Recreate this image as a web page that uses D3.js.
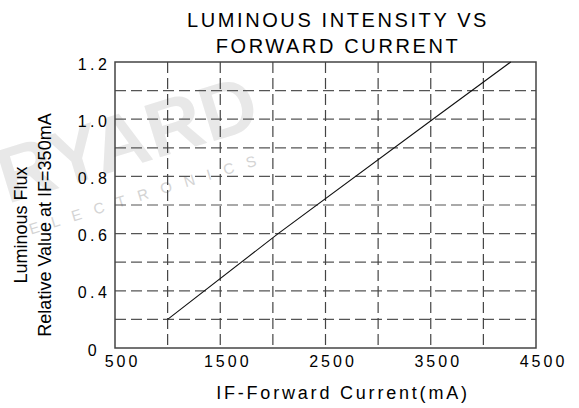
<!DOCTYPE html>
<html>
<head>
<meta charset="utf-8">
<script src="https://cdn.jsdelivr.net/npm/d3@7"></script>
<style>
  body { margin: 0; background: #fff; }
  svg { display: block; font-family: "Liberation Sans", Arial, sans-serif; }
</style>
</head>
<body>
<div id="chart"></div>
<script>
// values
var current = [1000, 2050, 3520, 4260];
var flux = [0.3, 0.6, 1.0, 1.2];

var xTicks = [500, 1500, 2500, 3500, 4500];
var xTickLabels = ["500", "1500", "2500", "3500", "4500"];
var xGrid = [1000, 1500, 2000, 2500, 3000, 3500, 4000];

// bottom of the axis is 0.2 but the sheet labels it "0"
var yTicks = [0.2, 0.4, 0.6, 0.8, 1.0, 1.2];
var yTickLabels = ["0", "0.4", "0.6", "0.8", "1.0", "1.2"];
var yGrid = [0.3, 0.4, 0.5, 0.6, 0.7, 0.8, 0.9, 1.0, 1.1];

var titleLines = ["LUMINOUS INTENSITY VS", "FORWARD CURRENT"];
var xLabel = "IF-Forward Current(mA)";
var yLabelLines = ["Luminous Flux", "Relative Value at IF=350mA"];

var w = 579, h = 408;
var pL = 115, pR = 536, pT = 62, pB = 348;

var svg = d3.select("#chart")
            .append("svg")
            .attr("width", w)
            .attr("height", h);

///////////// WATERMARK /////////////
var wm = svg.append("g")
  .attr("transform", "translate(135,165) rotate(-17)");
wm.append("text")
  .text("RYARD")
  .attr("x", 0)
  .attr("y", 0)
  .attr("text-anchor", "middle")
  .attr("font-size", "78px")
  .attr("font-weight", "bold")
  .attr("fill", "#e8e8e8");
wm.append("text")
  .text("ELECTRONICS")
  .attr("x", 5)
  .attr("y", 36)
  .attr("text-anchor", "middle")
  .attr("font-size", "15px")
  .attr("letter-spacing", "13px")
  .attr("fill", "#d4d4d4");

var x = d3.scaleLinear().domain([500, 4500]).range([pL, pR]);
var y = d3.scaleLinear().domain([0.2, 1.2]).range([pB, pT]);

///////////// GRID /////////////
svg.append("g")
  .selectAll("line")
  .data(yGrid)
  .enter()
  .append("line")
  .attr("x1", pL)
  .attr("x2", pR)
  .attr("y1", function(d) { return y(d) })
  .attr("y2", function(d) { return y(d) })
  .attr("stroke", "#555")
  .attr("stroke-width", 1.2)
  .attr("stroke-dasharray", "11,5");

svg.append("g")
  .selectAll("line")
  .data(xGrid)
  .enter()
  .append("line")
  .attr("x1", function(d) { return x(d) })
  .attr("x2", function(d) { return x(d) })
  .attr("y1", pT)
  .attr("y2", pB)
  .attr("stroke", "#444")
  .attr("stroke-width", 1.2)
  .attr("stroke-dasharray", "11,5");

// frame
svg.append("rect")
  .attr("x", pL)
  .attr("y", pT)
  .attr("width", pR - pL)
  .attr("height", pB - pT)
  .attr("fill", "none")
  .attr("stroke", "#444")
  .attr("stroke-width", 1.5);

///////////// AXES (labels only, sheet has no tick marks) /////////////
var xAxis = d3.axisBottom(x)
  .tickValues(xTicks)
  .tickFormat(function(d, i) { return xTickLabels[i] })
  .tickSize(0);
var gx = svg.append("g")
  .attr("transform", "translate(0," + pB + ")")
  .call(xAxis);
gx.select(".domain").remove();
gx.selectAll("text")
  .attr("font-family", "Liberation Sans, Arial, sans-serif")
  .attr("font-size", "16px")
  .attr("letter-spacing", "3px")
  .attr("fill", "#000")
  .attr("dy", null)
  .attr("y", 19)
  .attr("dx", 7);

// y labels sit centred in a column left of the frame
var yAxis = d3.axisLeft(y)
  .tickValues(yTicks)
  .tickFormat(function(d, i) { return yTickLabels[i] })
  .tickSize(0);
var gy = svg.append("g")
  .attr("transform", "translate(" + pL + ",0)")
  .call(yAxis);
gy.select(".domain").remove();
gy.selectAll("text")
  .attr("font-family", "Liberation Sans, Arial, sans-serif")
  .attr("font-size", "16px")
  .attr("letter-spacing", "3.5px")
  .attr("fill", "#000")
  .attr("text-anchor", "middle")
  .attr("dy", null)
  .attr("x", -21)
  .attr("y", 7);

///////////// CURVE /////////////
var pts = current.map(function(c, i) { return [c, flux[i]] });
var line = d3.line()
  .x(function(d) { return x(d[0]) })
  .y(function(d) { return y(d[1]) });
svg.append("path")
  .datum(pts)
  .attr("d", line)
  .attr("fill", "none")
  .attr("stroke", "#111")
  .attr("stroke-width", 1.1);

///////////// TEXT /////////////
svg.selectAll(".title")
  .data(titleLines)
  .enter()
  .append("text")
  .attr("class", "title")
  .text(function(d) { return d })
  .attr("x", 338)
  .attr("y", function(d, i) { return 27 + i * 26 })
  .attr("text-anchor", "middle")
  .attr("font-size", "20px")
  .attr("letter-spacing", "2.6px")
  .attr("fill", "#000");

svg.append("text")
  .text(xLabel)
  .attr("x", 343)
  .attr("y", 399)
  .attr("text-anchor", "middle")
  .attr("font-size", "18px")
  .attr("letter-spacing", "2.8px")
  .attr("fill", "#000");

svg.selectAll(".ylab")
  .data(yLabelLines)
  .enter()
  .append("text")
  .attr("class", "ylab")
  .text(function(d) { return d })
  .attr("transform", function(d, i) {
    return "translate(" + (27 + i * 24) + ",225) rotate(-90)"
  })
  .attr("text-anchor", "middle")
  .attr("font-size", "18px")
  .attr("fill", "#000");
</script>
</body>
</html>
